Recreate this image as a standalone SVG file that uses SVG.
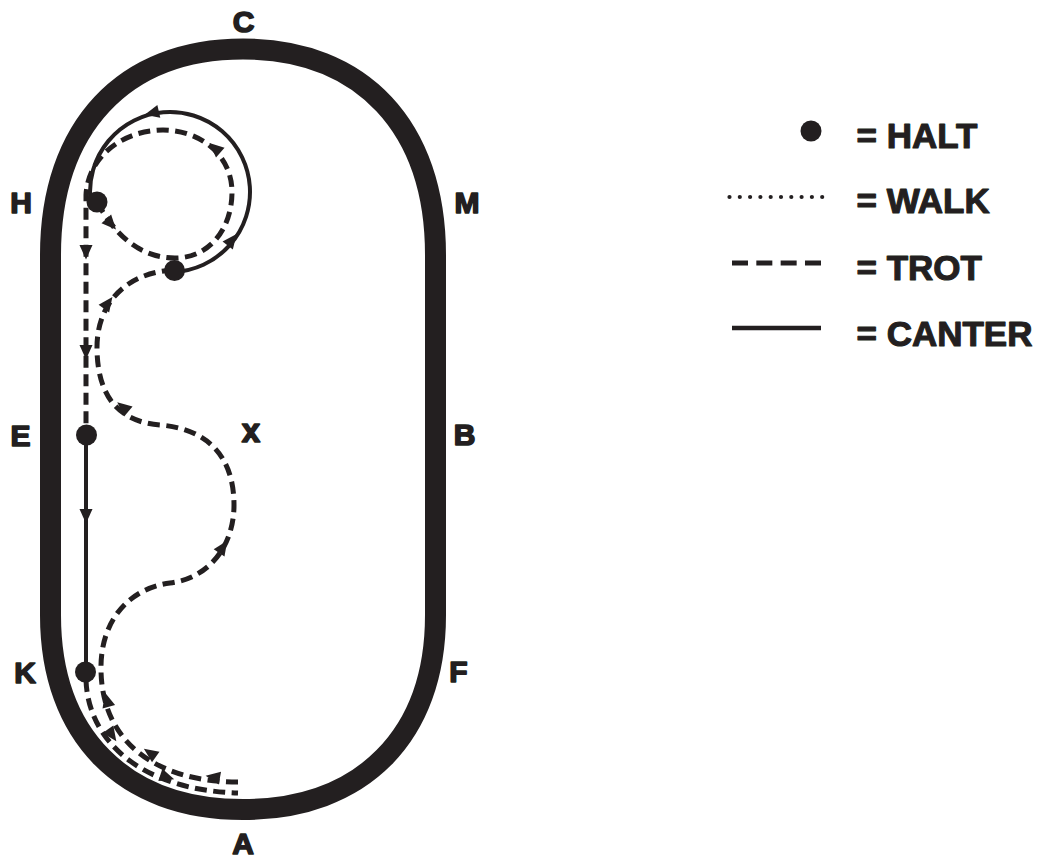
<svg xmlns="http://www.w3.org/2000/svg" xmlns:xlink="http://www.w3.org/1999/xlink" width="1050" height="859" viewBox="0 0 1050 859">
<defs>
<style>
.lbl{font-family:"Liberation Sans",Arial,sans-serif;font-weight:bold;fill:#231f20;stroke:#231f20;stroke-width:1.6;stroke-linejoin:round;text-anchor:middle}
.leg{font-family:"Liberation Sans",Arial,sans-serif;font-weight:bold;font-size:35px;fill:#231f20;stroke:#231f20;stroke-width:1.1;stroke-linejoin:round}
.trot{fill:none;stroke:#231f20;stroke-width:5;stroke-dasharray:12 6.5}
.canter{fill:none;stroke:#231f20;stroke-width:4}
.halt{fill:#231f20}
.ah{fill:#231f20}
</style>
<path id="ah" d="M7.5 0 L-7 -6.5 L-7 6.5 Z"/>
</defs>
<rect width="1050" height="859" fill="#ffffff"/>
<g id="track">
<path d="M50.5 615 L50.5 255 C50.5 127.3 123.6 49 243 49 C362.4 49 435.5 127.3 435.5 255 L435.5 615 C435.5 735.6 362.4 809.5 243 809.5 C123.6 809.5 50.5 735.6 50.5 615 Z" fill="none" stroke="#231f20" stroke-width="21"/>
</g>
<g id="labels">
<text id="lbl-C" class="lbl" x="243.5" y="32" font-size="30">C</text>
<text id="lbl-H" class="lbl" x="21" y="213" font-size="30">H</text>
<text id="lbl-M" class="lbl" x="467" y="213" font-size="30">M</text>
<text id="lbl-E" class="lbl" x="20.5" y="446" font-size="30">E</text>
<text id="lbl-B" class="lbl" x="464.5" y="445" font-size="30">B</text>
<text id="lbl-K" class="lbl" x="25" y="683" font-size="30">K</text>
<text id="lbl-F" class="lbl" x="458.5" y="682" font-size="30">F</text>
<text id="lbl-A" class="lbl" x="243" y="854" font-size="30">A</text>
<text id="lbl-X" class="lbl" x="251" y="442" font-size="33">x</text>
</g>
<g id="connectors">
<path id="trot-k-a" class="trot" d="M86 680 C88 740 140 790 238 793"/>
<path id="trot-a-serpentine" class="trot" d="M238 782 C160 782 102 745 101 670 C100 620 130 588 170 583 C210 578 234 545 234 505 C234 450 200 428 160 425 C120 422 98 398 97 350 C96 300 130 272 174 270"/>
<path id="canter-circle" class="canter" d="M174 271.9 A80 80 0 1 0 90.4 200 L97 202"/>
<path id="trot-loop-h-e" class="trot" d="M97 202 C115 235 140 258 175 258 C210 258 232 228 232 192 C232 155 200 130 163 130 C125 130 88 155 86 195 L86 435"/>
<path id="canter-e-k" class="canter" d="M86 435 L86 672"/>
<g id="arrowheads" class="ah">
<use xlink:href="#ah" transform="translate(152 113) rotate(167)"/>
<use xlink:href="#ah" transform="translate(232 240) rotate(-52)"/>
<use xlink:href="#ah" transform="translate(111 224) rotate(48)"/>
<use xlink:href="#ah" transform="translate(215 148) rotate(221)"/>
<use xlink:href="#ah" transform="translate(86 252) rotate(90)"/>
<use xlink:href="#ah" transform="translate(86 352) rotate(90)"/>
<use xlink:href="#ah" transform="translate(86 516) rotate(90)"/>
<use xlink:href="#ah" transform="translate(112 735) rotate(55)"/>
<use xlink:href="#ah" transform="translate(167 777) rotate(18)"/>
<use xlink:href="#ah" transform="translate(213 777) rotate(190)"/>
<use xlink:href="#ah" transform="translate(150 753) rotate(215)"/>
<use xlink:href="#ah" transform="translate(107 700) rotate(255)"/>
<use xlink:href="#ah" transform="translate(223 547) rotate(-56)"/>
<use xlink:href="#ah" transform="translate(123 407) rotate(220)"/>
<use xlink:href="#ah" transform="translate(108 303) rotate(-54)"/>
</g>
</g>
<g id="halts">
<circle id="halt-h" class="halt" cx="97" cy="202" r="10.5"/>
<circle id="halt-circle" class="halt" cx="174.5" cy="270.5" r="10.5"/>
<circle id="halt-e" class="halt" cx="86.5" cy="435" r="10.5"/>
<circle id="halt-k" class="halt" cx="85.5" cy="672" r="10.5"/>
</g>
<g id="legend">
<g id="legend-halt">
<circle class="halt" cx="811" cy="131" r="10.5"/>
<text class="leg" x="856.5" y="148.3">= HALT</text>
</g>
<g id="legend-walk">
<line x1="729.5" y1="197" x2="822.2" y2="197" stroke="#231f20" stroke-width="4.2" stroke-linecap="round" stroke-dasharray="0 10.3"/>
<text class="leg" x="856.5" y="213.3">= WALK</text>
</g>
<g id="legend-trot">
<line x1="732" y1="263" x2="821" y2="263" stroke="#231f20" stroke-width="5" stroke-dasharray="16 8.33"/>
<text class="leg" x="856.5" y="280">= TROT</text>
</g>
<g id="legend-canter">
<line x1="732" y1="328" x2="821" y2="328" stroke="#231f20" stroke-width="4.5"/>
<text class="leg" x="856.5" y="346">= CANTER</text>
</g>
</g>
</svg>
